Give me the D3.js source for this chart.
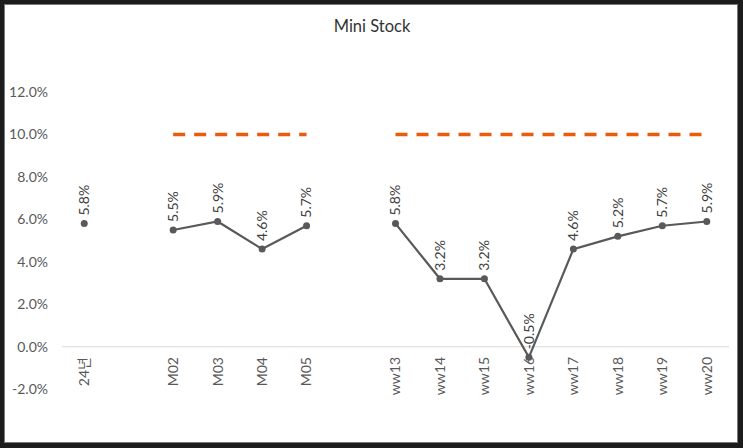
<!DOCTYPE html>
<html><head><meta charset="utf-8">
<script src="https://cdn.jsdelivr.net/npm/d3@7"></script>
<style>
html,body{margin:0;padding:0;background:#1c1c1c;}
svg{display:block;}
text{font-family:Lato,"Noto Sans CJK KR",sans-serif;}
</style></head>
<body>
<svg id="chart" width="743" height="448"></svg>
<script>
const title = "Mini Stock";
const categories = ["24년","","M02","M03","M04","M05","","ww13","ww14","ww15","ww16","ww17","ww18","ww19","ww20"];
const values = [5.8,null,5.5,5.9,4.6,5.7,null,5.8,3.2,3.2,-0.5,4.6,5.2,5.7,5.9];
const target = [null,null,10,10,10,10,null,10,10,10,10,10,10,10,10];
const yTicks = [-2,0,2,4,6,8,10,12];

const svg = d3.select("#chart");
svg.append("rect").attr("x",0).attr("y",0).attr("width",743).attr("height",448).attr("fill","#1c1c1c");
svg.append("rect").attr("x",4.5).attr("y",4.5).attr("width",733).attr("height",438)
  .attr("fill","#ffffff").attr("stroke","#7a7a7a").attr("stroke-width",1);

const x = d3.scaleBand().domain(d3.range(categories.length)).range([62,729]).padding(0);
const y = d3.scaleLinear().domain([-2,12]).range([389.2,92]);
const cx = i => x(i) + x.bandwidth()/2;

svg.append("text").attr("x",372).attr("y",31.5).attr("text-anchor","middle")
  .attr("font-size",16.5).attr("fill","#333333").text(title);

// y axis
const yAxis = svg.append("g").attr("transform","translate(48,0)")
  .call(d3.axisLeft(y).tickValues(yTicks).tickSize(0).tickPadding(0).tickFormat(d => d.toFixed(1)+"%"));
yAxis.select(".domain").remove();
yAxis.selectAll("text").attr("font-size",14).attr("fill","#595959").attr("font-family",'Lato,sans-serif');

// zero line
svg.append("line").attr("x1",62).attr("x2",729).attr("y1",y(0)).attr("y2",y(0))
  .attr("stroke","#d9d9d9").attr("stroke-width",1);

// x axis labels (low position)
const xAxis = svg.append("g").attr("transform","translate(0,357)")
  .call(d3.axisBottom(x).tickSize(0).tickFormat(i => categories[i]));
xAxis.select(".domain").remove();
xAxis.selectAll("text")
  .attr("font-size",14).attr("fill","#595959")
  .attr("text-anchor","end").attr("dy","0.35em").attr("y",0).attr("x",0)
  .attr("transform","rotate(-90)");

// target dashed line
const lineT = d3.line().defined(d => d.v != null).x(d => cx(d.i)).y(d => y(d.v));
svg.append("path").datum(target.map((v,i)=>({v,i})))
  .attr("d",lineT).attr("fill","none").attr("stroke","#ea5b0c")
  .attr("stroke-width",3.5).attr("stroke-dasharray","12,9");

// value line
svg.append("path").datum(values.map((v,i)=>({v,i})))
  .attr("d",lineT).attr("fill","none").attr("stroke","#595959").attr("stroke-width",2.2);

const pts = values.map((v,i)=>({v,i})).filter(d=>d.v!=null);
svg.selectAll("circle.pt").data(pts).join("circle")
  .attr("cx",d=>cx(d.i)).attr("cy",d=>y(d.v)).attr("r",3.5).attr("fill","#595959");

svg.selectAll("text.lbl").data(pts).join("text")
  .attr("class","lbl")
  .attr("transform",d=>`translate(${cx(d.i)},${y(d.v)-8}) rotate(-90)`)
  .attr("text-anchor","start").attr("dy","0.35em")
  .attr("font-size",14).attr("fill","#404040")
  .text(d=>d.v.toFixed(1)+"%");
</script>
</body></html>
